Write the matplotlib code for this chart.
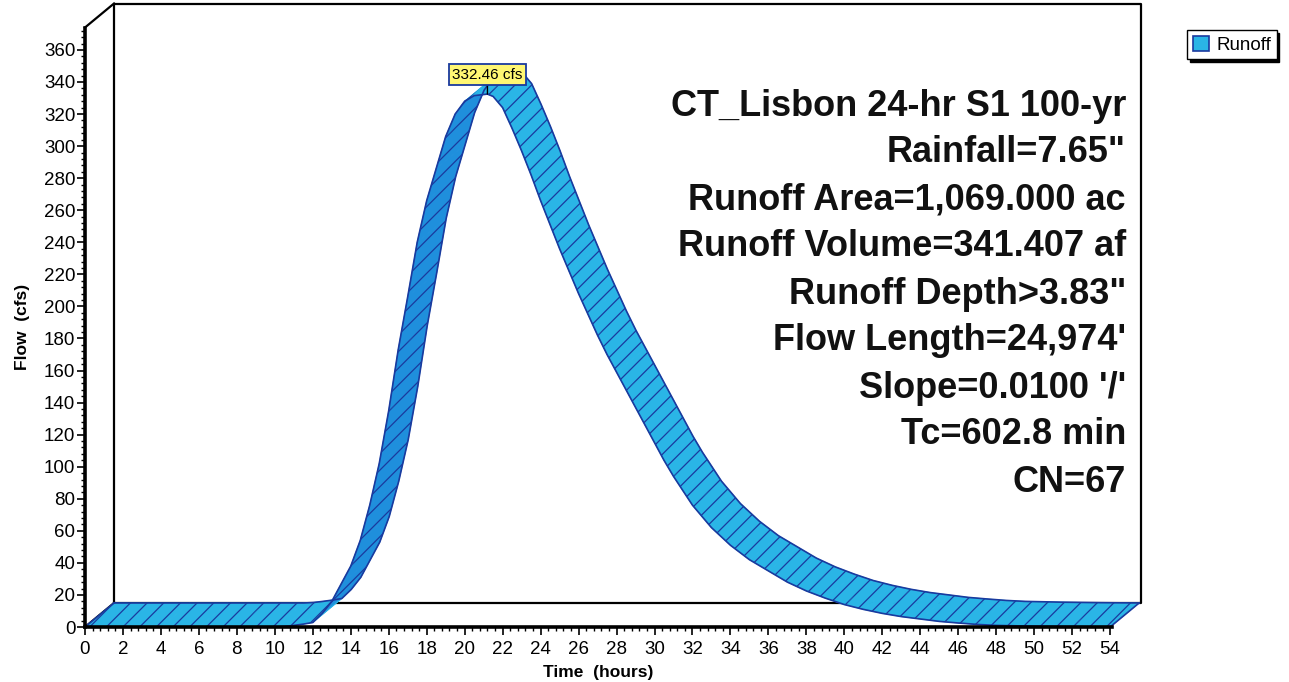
import numpy as np
import matplotlib
matplotlib.use('Agg')
import matplotlib.pyplot as plt
import matplotlib.transforms as mtransforms
from matplotlib.collections import PolyCollection
from matplotlib.patches import Patch
from matplotlib.ticker import MultipleLocator

plt.rcParams['font.family'] = ['Liberation Sans', 'DejaVu Sans']
plt.rcParams['hatch.linewidth'] = 0.9

# Runoff hydrograph (hours, cfs)
hours = [0, 2, 4, 6, 8, 10, 10.5, 11, 11.5, 12, 12.5, 13, 13.5, 14, 14.5, 15, 15.5, 16,
         16.5, 17, 17.5, 18, 18.5, 19, 19.5, 20, 20.5, 21.2, 21.5, 22, 22.5, 23, 23.5,
         24, 24.5, 25, 25.5, 26, 26.5, 27, 27.5, 28, 28.5, 29, 29.5, 30, 30.5, 31,
         31.5, 32, 32.5, 33, 34, 35, 36, 37, 38, 39, 40, 41, 42, 43, 44, 45, 46, 47,
         48, 50, 52, 54]
flow = [0, 0, 0, 0, 0, 0, 0.3, 1, 1.8, 2.8, 8.5, 16, 27, 38, 54, 76, 102, 135,
        173, 206, 240, 266, 286, 306, 320, 328, 331.5, 332.46, 331, 324, 311, 297, 282,
        266, 251, 236, 222, 208, 195, 182, 170, 159, 148, 137, 126, 115, 104, 94,
        85, 76, 69, 62, 51, 42, 35, 28, 22.5, 18, 14, 11, 8.5, 6.5, 5, 3.5, 2.5, 1.6,
        1, 0.5, 0.2, 0]

series_name = 'Runoff'
x_label = 'Time  (hours)'
y_label = 'Flow  (cfs)'
info_lines = ['CT_Lisbon 24-hr S1 100-yr', 'Rainfall=7.65"', 'Runoff Area=1,069.000 ac',
              'Runoff Volume=341.407 af', 'Runoff Depth>3.83"', "Flow Length=24,974'",
              "Slope=0.0100 '/'", 'Tc=602.8 min', 'CN=67']

fill_c = '#2ab5e6'
rise_c = '#1f8fdc'
edge_c = '#1a3a9e'
depth_px = (29, 24)   # 3D offset of the back plane, pixels

W, H = 1289, 682
fig = plt.figure(figsize=(W / 100, H / 100), dpi=100)
ax = fig.add_axes([85 / W, 55 / H, 1027 / W, 599.5 / H])
ax.set_xlim(0, 54.1)
ax.set_ylim(0, 374)

t = np.array(hours, dtype=float)
q = np.array(flow, dtype=float)

# depth offset in data units
p0 = ax.transData.transform((0, 0))
dx, dy = ax.transData.inverted().transform(p0 + np.array(depth_px))
back = mtransforms.offset_copy(ax.transData, fig=fig, x=depth_px[0], y=depth_px[1], units='dots')

# back plane frame
x0, x1 = ax.get_xlim()
y0, y1 = ax.get_ylim()
kw = dict(color='black', lw=1.6, clip_on=False, zorder=1)
ax.plot([x0, x0, x1, x1, x0], [y0, y1, y1, y0, y0], transform=back, **kw)
ax.plot([x0, x0 + dx], [y1, y1 + dy], **kw)
ax.plot([x0, x0 + dx], [y0, y0 + dy], **kw)

# ribbon surface
quads, cols = [], []
for i in range(len(t) - 1):
    quads.append([(t[i], q[i]), (t[i + 1], q[i + 1]),
                  (t[i + 1] + dx, q[i + 1] + dy), (t[i] + dx, q[i] + dy)])
    slope = (q[i + 1] - q[i]) / (t[i + 1] - t[i])
    cols.append(rise_c if slope > 12 else fill_c)
ax.add_collection(PolyCollection(quads, facecolors=cols, edgecolors=cols, linewidths=0.6,
                                 clip_on=False, zorder=3))
ax.add_collection(PolyCollection(quads, facecolors='none', edgecolors=edge_c, linewidths=0,
                                 hatch='//', clip_on=False, zorder=4))
ax.plot(t, q, color=edge_c, lw=1.2, clip_on=False, zorder=5)
ax.plot(t, q, color=edge_c, lw=1.2, clip_on=False, zorder=5, transform=back)
ax.plot([t[0], t[0] + dx], [q[0], q[0] + dy], color=edge_c, lw=1.2, clip_on=False, zorder=5)
ax.plot([t[-1], t[-1] + dx], [q[-1], q[-1] + dy], color=edge_c, lw=1.2, clip_on=False, zorder=5)

# peak label
ip = int(np.argmax(q))
ax.annotate('%.2f cfs' % q[ip], xy=(t[ip], q[ip]), xytext=(0, 9), textcoords='offset points',
            ha='center', va='bottom', fontsize=11, zorder=7,
            bbox=dict(boxstyle='square,pad=0.22', fc='#fff773', ec=edge_c, lw=1.3),
            arrowprops=dict(arrowstyle='-', color='black', lw=1, shrinkA=0, shrinkB=0))

# axes styling
for s in ['top', 'right']:
    ax.spines[s].set_visible(False)
for s in ['left', 'bottom']:
    ax.spines[s].set_linewidth(2.6)
    ax.spines[s].set_zorder(6)
ax.patch.set_visible(False)
ax.xaxis.set_major_locator(MultipleLocator(2))
ax.xaxis.set_minor_locator(MultipleLocator(0.4))
ax.yaxis.set_minor_locator(MultipleLocator(4))
ax.set_yticks(np.arange(0, 361, 20))
ax.tick_params(which='major', direction='out', length=6, width=1.2, labelsize=13.5)
ax.tick_params(axis='x', which='major', pad=4)
ax.tick_params(axis='y', which='major', pad=1)
ax.tick_params(which='minor', direction='out', length=3, width=1)
ax.set_xlabel(x_label, fontsize=12.5, fontweight='bold', labelpad=5)
ax.set_ylabel(y_label, fontsize=12.5, fontweight='bold', labelpad=10)

# info block
for i, line in enumerate(info_lines):
    fig.text(1126 / W, 1 - (106 + 47 * i) / H, line, ha='right', va='center',
             fontsize=26, fontweight='bold', color='#111111')

fig.legend(handles=[Patch(facecolor=fill_c, edgecolor=edge_c, lw=1.2, label=series_name)],
           loc='upper left', bbox_to_anchor=(1187 / W, 1 - 30 / H), fontsize=13.5,
           frameon=True, fancybox=False, edgecolor='black', framealpha=1,
           shadow={'color': 'black', 'alpha': 1}, handlelength=0.85, handleheight=0.85,
           handletextpad=0.4, borderpad=0.3, borderaxespad=0)

fig.savefig('out.png', dpi=100)
